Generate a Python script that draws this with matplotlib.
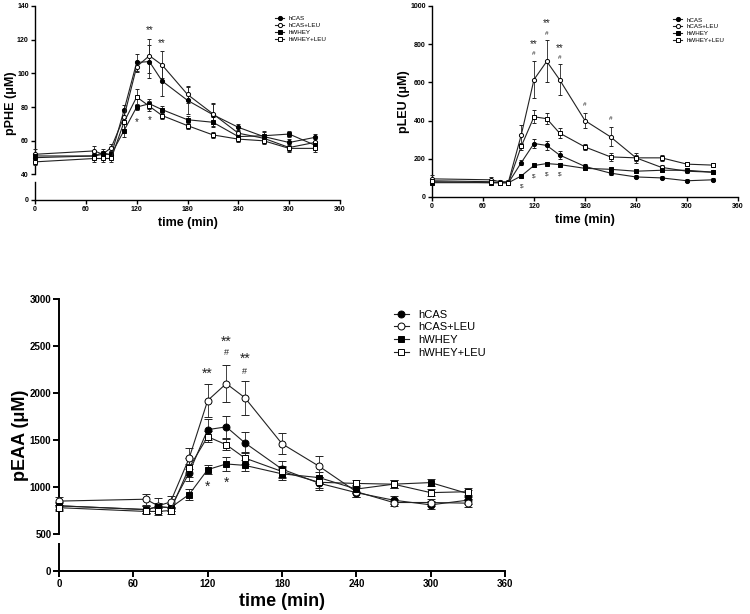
import numpy as np
import matplotlib
matplotlib.use("Agg")
import matplotlib.pyplot as plt
from matplotlib.lines import Line2D

plt.rcParams['font.family'] = ['Liberation Sans', 'DejaVu Sans']

# sampling times (min)
time = [0, 70, 80, 90, 105, 120, 135, 150, 180, 210, 240, 270, 300, 330]
groups = ['hCAS', 'hCAS+LEU', 'hWHEY', 'hWHEY+LEU']

# plasma phenylalanine (uM)
phe_cas = [50, 51, 53, 51.5, 78, 106.5, 107, 95.5, 84, 75.5, 68, 62.5, 59, 62]
phe_cas_leu = [52, 54, 52, 56, 74, 104, 110.5, 105, 87.5, 76, 64.5, 61.5, 56, 59]
phe_whey = [51, 51, 52, 52, 66, 80, 82, 78.5, 72.5, 71, 62.5, 63, 64, 57.5]
phe_whey_leu = [47.5, 49.5, 49.5, 49.5, 71, 86, 80.5, 75, 69, 63.5, 61, 60, 55.5, 55.5]
phe_cas_sd = [3, 2, 2, 2, 3, 5, 10, 9, 8, 7, 2, 3, 2, 2]
phe_cas_leu_sd = [3, 3, 2, 2, 3, 3, 10, 8, 5, 6, 2, 2, 2, 2]
phe_whey_sd = [2, 2, 2, 2, 4, 2, 3, 2, 2, 3, 2, 3, 2, 2]
phe_whey_leu_sd = [2, 2, 2, 2, 4, 5, 3, 2, 2, 2, 2, 2, 2, 2]

# plasma leucine (uM)
leu_cas = [80, 75, 75, 75, 180, 280, 270, 220, 160, 125, 105, 100, 85, 90]
leu_cas_leu = [95, 90, 80, 80, 325, 615, 710, 615, 400, 315, 205, 155, 135, 130]
leu_whey = [75, 75, 75, 75, 110, 165, 175, 170, 150, 145, 135, 140, 140, 130]
leu_whey_leu = [85, 80, 75, 75, 265, 420, 410, 335, 262, 210, 205, 205, 172, 167]
leu_cas_sd = [10, 8, 8, 8, 15, 25, 25, 20, 15, 10, 8, 8, 8, 8]
leu_cas_leu_sd = [20, 15, 10, 10, 50, 95, 110, 80, 40, 50, 25, 15, 10, 10]
leu_whey_sd = [8, 8, 8, 8, 10, 10, 10, 10, 8, 8, 8, 8, 8, 8]
leu_whey_leu_sd = [10, 10, 8, 8, 20, 35, 30, 25, 15, 20, 15, 15, 10, 10]

# plasma essential amino acids (uM)
eaa_cas = [800, 760, 790, 780, 1150, 1610, 1640, 1470, 1190, 1040, 940, 860, 810, 860]
eaa_cas_leu = [850, 870, 800, 840, 1305, 1920, 2100, 1950, 1460, 1220, 950, 835, 835, 828]
eaa_whey = [800, 760, 790, 780, 920, 1185, 1245, 1230, 1140, 1100, 978, 1030, 1047, 930]
eaa_whey_leu = [780, 740, 740, 750, 1205, 1535, 1450, 1308, 1165, 1050, 1038, 1030, 940, 950]
eaa_cas_sd = [40, 40, 40, 40, 90, 110, 120, 110, 90, 70, 50, 40, 40, 40]
eaa_cas_leu_sd = [40, 60, 80, 60, 110, 180, 200, 180, 110, 110, 60, 40, 40, 40]
eaa_whey_sd = [30, 40, 40, 40, 60, 50, 70, 60, 70, 60, 40, 40, 40, 40]
eaa_whey_leu_sd = [30, 30, 40, 40, 100, 60, 60, 60, 60, 60, 40, 40, 40, 40]

# significance marks: (time, y, text)
phe_marks = [(135, 126, '**'), (150, 118, '**'), (120, 71, '*'), (135, 72.5, '*')]
leu_marks = [(120, 800, '**'), (120, 752, '#'), (135, 910, '**'), (135, 855, '#'),
             (150, 778, '**'), (150, 732, '#'), (180, 482, '#'), (210, 410, '#'),
             (105, 55, '$'), (120, 110, '$'), (135, 118, '$'), (150, 118, '$')]
eaa_marks = [(120, 2200, '**'), (135, 2550, '**'), (135, 2430, '#'), (150, 2360, '**'),
             (150, 2230, '#'), (120, 1000, '*'), (135, 1045, '*')]

styles = [dict(marker='o', mfc='black'), dict(marker='o', mfc='white'),
          dict(marker='s', mfc='black'), dict(marker='s', mfc='white')]

W, H = 750, 614
fig = plt.figure(figsize=(W / 100, H / 100), dpi=100)


def frac(x0, x1, ytop, ybot):
    return [x0 / W, 1 - ybot / H, (x1 - x0) / W, (ybot - ytop) / H]


def style_ax(ax, fs, lw, tl):
    for s in ['top', 'right']:
        ax.spines[s].set_visible(False)
    for s in ['left', 'bottom']:
        ax.spines[s].set_linewidth(lw)
    ax.tick_params(direction='out', length=tl, width=lw, labelsize=fs, pad=1.5)
    for lab in ax.get_xticklabels() + ax.get_yticklabels():
        lab.set_fontweight('bold')


def draw(ax, series, sds, ms, lw):
    for y, e, st in zip(series, sds, styles):
        ax.errorbar(time, y, yerr=e, color='#222222', lw=lw, ms=ms, mec='black',
                    mew=0.7, capsize=ms * 0.55, elinewidth=0.6, capthick=0.6,
                    clip_on=False, zorder=3, **st)


def panel(x0, x1, ytop, ybrk, ylow, ybot, ylim, lowmax, yticks, series, sds, marks,
          ylabel, ylab_x, fs, lfs, ms, mfs):
    lw = 1.0 if fs < 6 else 1.4
    tl = 3 if fs < 6 else 4
    if ybrk is None:
        ax = fig.add_axes(frac(x0, x1, ytop, ybot))
        lowax = ax
    else:
        ax = fig.add_axes(frac(x0, x1, ytop, ybrk))
        lowax = fig.add_axes(frac(x0, x1, ylow, ybot))
        lowax.set_ylim(0, lowmax)
        lowax.set_yticks([0])
        lowax.set_xlim(0, 360)
        lowax.set_xticks(range(0, 361, 60))
        lowax.patch.set_visible(False)
        ax.spines['bottom'].set_visible(False)
    draw(ax, series, sds, ms, 0.8)
    ax.set_xlim(0, 360)
    ax.set_ylim(*ylim)
    ax.set_yticks(yticks)
    ax.set_xticks(range(0, 361, 60))
    ax.patch.set_visible(False)
    for t, y, s in marks:
        size = mfs * 0.65 if s in ('#', '$') else mfs
        ax.text(t, y, s, ha='center', va='center', fontsize=size, color='#222222')
    style_ax(ax, fs, lw, tl)
    if lowax is not ax:
        style_ax(lowax, fs, lw, tl)
        ax.tick_params(axis='x', bottom=False, labelbottom=False)
    lowax.set_xlabel('time (min)', fontsize=lfs, fontweight='bold', labelpad=3)
    fig.text(ylab_x / W, 1 - ((ytop + ybot) / 2) / H, ylabel, rotation=90,
             ha='center', va='center', fontsize=lfs, fontweight='bold')
    return ax


def legend(x, y, fs, ms):
    handles = [Line2D([], [], color='#222222', lw=0.8, ms=ms, mec='black', mew=0.7, **st)
               for st in styles]
    fig.legend(handles, groups, loc='upper left', bbox_to_anchor=(x / W, 1 - y / H),
               frameon=False, fontsize=fs, handlelength=1.4, handletextpad=0.8,
               labelspacing=0.25, borderpad=0)


panel(35, 340, 6, 174.5, 182, 200, (40, 140), 10.7, range(40, 141, 20),
      [phe_cas, phe_cas_leu, phe_whey, phe_whey_leu],
      [phe_cas_sd, phe_cas_leu_sd, phe_whey_sd, phe_whey_leu_sd], phe_marks,
      'pPHE (μM)', 11, 5, 9, 3, 7)
legend(272, 13, 4.5, 3)

panel(432, 738, 6, None, None, 197, (0, 1000), None, range(0, 1001, 200),
      [leu_cas, leu_cas_leu, leu_whey, leu_whey_leu],
      [leu_cas_sd, leu_cas_leu_sd, leu_whey_sd, leu_whey_leu_sd], leu_marks,
      'pLEU (μM)', 404, 5, 9, 3, 7)
legend(670, 14, 4.5, 3)

panel(59, 505, 299, 534, 544, 571, (500, 3000), 287, range(500, 3001, 500),
      [eaa_cas, eaa_cas_leu, eaa_whey, eaa_whey_leu],
      [eaa_cas_sd, eaa_cas_leu_sd, eaa_whey_sd, eaa_whey_leu_sd], eaa_marks,
      'pEAA (μM)', 21, 7, 13, 5, 10)
legend(388, 304, 8, 5)

fig.savefig('out.png', dpi=100)
